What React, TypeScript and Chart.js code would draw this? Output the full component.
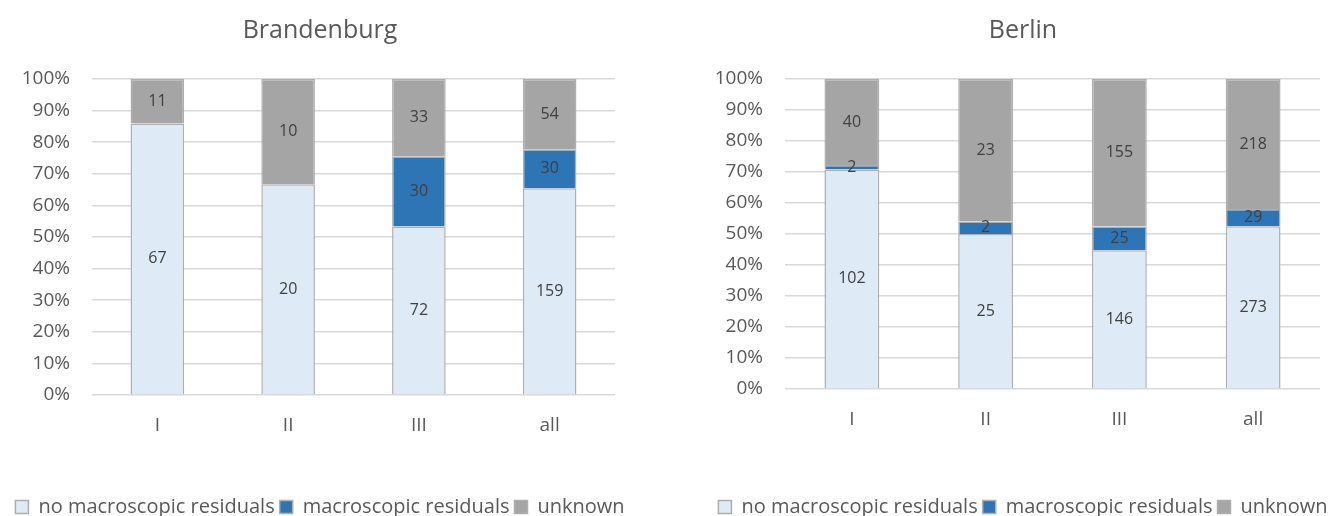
import { useEffect, useRef } from "react";
import { Chart, registerables } from "chart.js";

Chart.register(...registerables);

// ---------- data ----------
const categories = ["I", "II", "III", "all"];
const seriesNames = ["no macroscopic residuals", "macroscopic residuals", "unknown"];

const brandenburgNoResiduals = [67, 20, 72, 159];
const brandenburgResiduals = [0, 0, 30, 30];
const brandenburgUnknown = [11, 10, 33, 54];

const berlinNoResiduals = [102, 25, 146, 273];
const berlinResiduals = [2, 2, 25, 29];
const berlinUnknown = [40, 23, 155, 218];

const yTickSuffix = "%";

// ---------- styles ----------
const FONT = "'Open Sans', 'Noto Sans', sans-serif";
const fillColors = ["#deebf7", "#2e75b6", "#a5a5a5"];
const borderColor = "#aeaeae";
const textColor = "#595959";
const labelColor = "#404040";
const CANVAS_H = 527;
const LEGEND_FONT = 20;
const LEGEND_PAD = 5;
const LEGEND_H = LEGEND_FONT + LEGEND_PAD + 10;

const segmentLabels = {
  id: "segmentLabels",
  afterDatasetsDraw(chart: any) {
    const ctx = chart.ctx;
    ctx.save();
    ctx.font = `16px ${FONT}`;
    ctx.fillStyle = labelColor;
    ctx.textAlign = "center";
    ctx.textBaseline = "middle";
    chart.data.datasets.forEach((ds: any, i: number) => {
      const meta = chart.getDatasetMeta(i);
      meta.data.forEach((el: any, j: number) => {
        const c = ds.counts[j];
        if (!c) return;
        const p = el.getProps(["x", "y", "base"], true);
        ctx.fillText(String(c), p.x, (p.y + p.base) / 2);
      });
    });
    ctx.restore();
  },
};

type PanelProps = {
  title: string;
  series: number[][];
  left: number;
  width: number;
  yWidth: number;
  rightWidth: number;
  plotBottom: number;
};

function ChartPanel({ title, series, left, width, yWidth, rightWidth, plotBottom }: PanelProps) {
  const ref = useRef<HTMLCanvasElement | null>(null);

  useEffect(() => {
    if (!ref.current) return;
    const totals = categories.map((_, j) => series.reduce((s, arr) => s + arr[j], 0));
    const datasets = series.map((arr, i) => ({
      label: seriesNames[i],
      data: arr.map((v, j) => (v / totals[j]) * 100),
      counts: arr,
      backgroundColor: fillColors[i],
      borderColor: borderColor,
      borderWidth: 1.5,
      categoryPercentage: 1,
      barPercentage: 0.41,
    }));
    const xHeight = CANVAS_H - LEGEND_H - plotBottom;

    const chart = new Chart(ref.current, {
      type: "bar",
      data: { labels: categories, datasets },
      options: {
        responsive: false,
        animation: false,
        layout: { padding: 0 },
        plugins: {
          tooltip: { enabled: false },
          title: {
            display: true,
            text: title,
            color: textColor,
            font: { family: FONT, size: 25, weight: "normal", lineHeight: 1.2 },
            padding: { top: 16, bottom: 33 },
          },
          legend: {
            position: "bottom",
            labels: {
              boxWidth: 13,
              boxHeight: 13,
              padding: LEGEND_PAD,
              color: textColor,
              font: { family: FONT, size: LEGEND_FONT },
            },
          },
        },
        scales: {
          x: {
            stacked: true,
            grid: { display: false, drawTicks: false },
            border: { display: false },
            ticks: { color: textColor, font: { family: FONT, size: 19 }, padding: 19 },
            afterFit: (s: any) => {
              s.height = xHeight;
            },
          },
          y: {
            stacked: true,
            min: 0,
            max: 100,
            grid: { color: "#d9d9d9", lineWidth: 1.5, drawTicks: false },
            border: { display: false },
            ticks: {
              stepSize: 10,
              color: textColor,
              font: { family: FONT, size: 19 },
              padding: 22,
              callback: (v: any) => `${v}${yTickSuffix}`,
            },
            afterFit: (s: any) => {
              s.width = yWidth;
            },
          },
          yRight: {
            position: "right",
            display: true,
            grid: { display: false, drawTicks: false },
            border: { display: false },
            ticks: { display: false },
            afterFit: (s: any) => {
              s.width = rightWidth;
            },
          },
        },
      } as any,
      plugins: [segmentLabels],
    });
    return () => chart.destroy();
  }, []);

  return (
    <canvas
      ref={ref}
      width={width}
      height={CANVAS_H}
      style={{ position: "absolute", left, top: 0, width, height: CANVAS_H }}
    />
  );
}

export default function App() {
  return (
    <div
      style={{
        position: "absolute",
        left: 0,
        top: 0,
        width: 1336,
        height: 516,
        overflow: "hidden",
        background: "#ffffff",
      }}
    >
      <ChartPanel
        title="Brandenburg"
        series={[brandenburgNoResiduals, brandenburgResiduals, brandenburgUnknown]}
        left={0}
        width={640}
        yWidth={92}
        rightWidth={25}
        plotBottom={395}
      />
      <ChartPanel
        title="Berlin"
        series={[berlinNoResiduals, berlinResiduals, berlinUnknown]}
        left={710}
        width={626}
        yWidth={75}
        rightWidth={16}
        plotBottom={389}
      />
    </div>
  );
}
